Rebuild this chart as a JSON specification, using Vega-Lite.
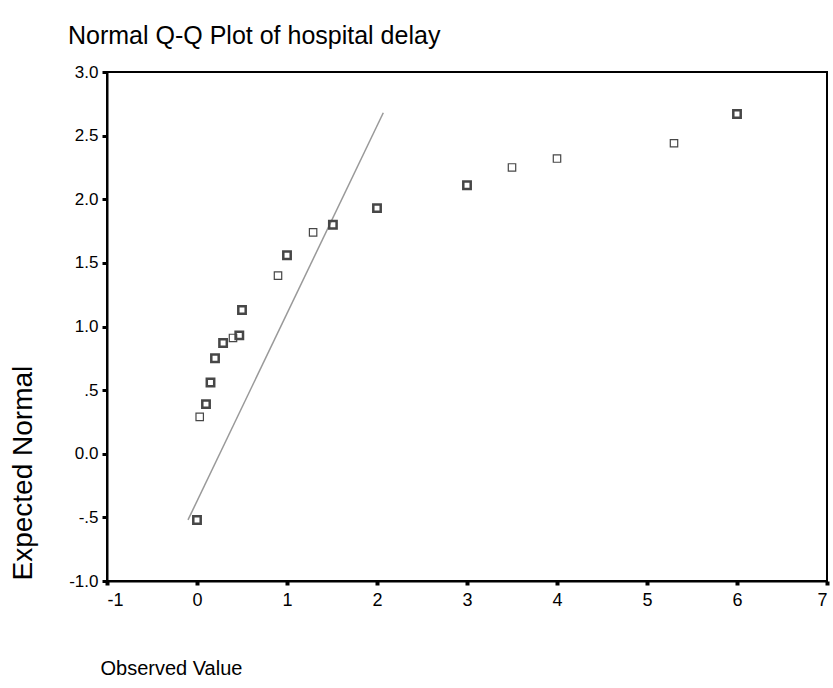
{
  "$schema": "https://vega.github.io/schema/vega-lite/v6.json",
  "autosize": "none",
  "width": 720,
  "height": 509,
  "padding": {"left": 107, "top": 72, "right": 6, "bottom": 107},
  "background": "white",
  "title": {
    "text": "Normal Q-Q Plot of hospital delay",
    "anchor": "start",
    "frame": "group",
    "dx": -39,
    "dy": 41,
    "baseline": "bottom",
    "offset": 30,
    "font": "Liberation Sans",
    "fontSize": 25,
    "fontWeight": "normal",
    "color": "black"
  },
  "config": {
    "view": {"stroke": "black", "strokeWidth": 2},
    "axis": {
      "grid": false,
      "domainColor": "black",
      "domainWidth": 2,
      "tickColor": "black",
      "labelFont": "Liberation Sans",
      "labelFontSize": 17,
      "labelColor": "black",
      "titleFont": "Liberation Sans",
      "titleFontWeight": "normal",
      "titleColor": "black"
    }
  },
  "datasets": {
    "qq": [
      {"observed": 0.0, "expected": -0.52, "n": 2},
      {"observed": 0.03, "expected": 0.29, "n": 1},
      {"observed": 0.1, "expected": 0.39, "n": 2},
      {"observed": 0.15, "expected": 0.56, "n": 2},
      {"observed": 0.2, "expected": 0.75, "n": 2},
      {"observed": 0.29, "expected": 0.87, "n": 2},
      {"observed": 0.4, "expected": 0.91, "n": 1},
      {"observed": 0.47, "expected": 0.93, "n": 2},
      {"observed": 0.5, "expected": 1.13, "n": 2},
      {"observed": 0.9, "expected": 1.40, "n": 1},
      {"observed": 1.0, "expected": 1.56, "n": 2},
      {"observed": 1.29, "expected": 1.74, "n": 1},
      {"observed": 1.51, "expected": 1.80, "n": 2},
      {"observed": 2.0, "expected": 1.93, "n": 2},
      {"observed": 3.0, "expected": 2.11, "n": 2},
      {"observed": 3.5, "expected": 2.25, "n": 1},
      {"observed": 4.0, "expected": 2.32, "n": 1},
      {"observed": 5.3, "expected": 2.44, "n": 1},
      {"observed": 6.0, "expected": 2.67, "n": 2}
    ],
    "ref": [
      {"observed": -0.1, "expected": -0.52},
      {"observed": 2.07, "expected": 2.68}
    ]
  },
  "layer": [
    {
      "data": {"name": "ref"},
      "mark": {"type": "line", "color": "#999999", "strokeWidth": 1.5},
      "encoding": {
        "x": {
          "field": "observed", "type": "quantitative",
          "scale": {"domain": [-1, 7], "nice": false, "zero": false},
          "axis": {
            "title": "Observed Value",
            "titleFontSize": 20,
            "values": [-1, 0, 1, 2, 3, 4, 5, 6, 7],
            "labelExpr": "(datum.value < 0 ? '-' : '') + abs(datum.value)",
            "labelFontSize": 18,
            "tickSize": 4, "tickWidth": 4,
            "labelPadding": 6,
            "titleX": -7, "titleY": 87,
            "titleAlign": "left", "titleBaseline": "middle"
          }
        },
        "y": {
          "field": "expected", "type": "quantitative",
          "scale": {"domain": [-1, 3], "nice": false, "zero": false},
          "axis": {
            "title": "Expected Normal",
            "titleFontSize": 28,
            "values": [-1, -0.5, 0, 0.5, 1, 1.5, 2, 2.5, 3],
            "labelExpr": "(datum.value < 0 ? '-' : '') + (abs(datum.value) == 0.5 ? '.5' : format(abs(datum.value), '.1f'))",
            "tickSize": 5, "tickWidth": 3,
            "labelPadding": 4,
            "titleX": -84, "titleY": 508,
            "titleAngle": -90,
            "titleAlign": "left", "titleBaseline": "middle"
          }
        }
      }
    },
    {
      "data": {"name": "qq"},
      "mark": {"type": "point", "shape": "square", "filled": false, "size": 55, "color": "#474747", "opacity": 1},
      "encoding": {
        "x": {"field": "observed", "type": "quantitative"},
        "y": {"field": "expected", "type": "quantitative"},
        "strokeWidth": {
          "field": "n", "type": "quantitative",
          "scale": {"domain": [1, 2], "range": [1.2, 2.5]},
          "legend": null
        }
      }
    }
  ]
}
